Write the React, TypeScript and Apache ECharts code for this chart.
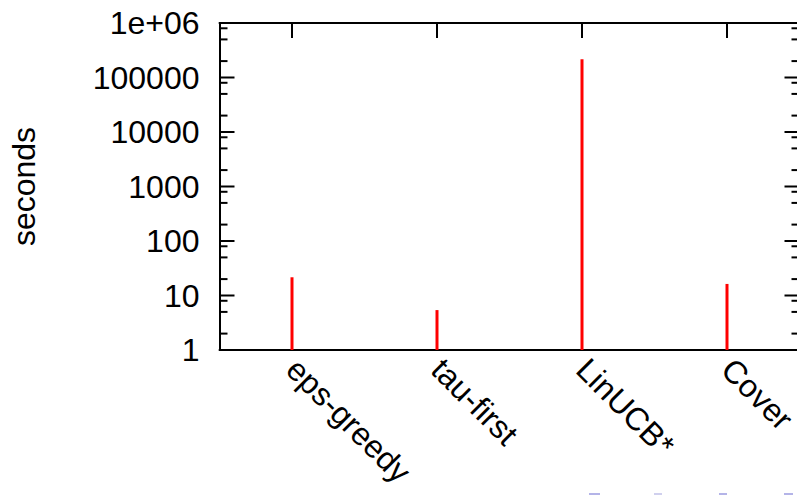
import React, { useEffect, useRef } from "react";
import * as echarts from "echarts";

const categories = ["eps-greedy", "tau-first", "LinUCB*", "Cover"];
const seconds = [21.6, 5.4, 216000, 16.3];
const yTickLabels = ["1", "10", "100", "1000", "10000", "100000", "1e+06"];
const majorTickValues = [1, 10, 100, 1000, 10000, 100000, 1000000];
const minorTickValues = [
  2, 5, 8,
  20, 50, 80,
  200, 500, 800,
  2000, 5000, 8000,
  20000, 50000, 80000,
  200000, 500000, 800000,
];

const FONT = "'Liberation Sans', Arial, Helvetica, sans-serif";

export default function App() {
  const ref = useRef<HTMLDivElement>(null);
  useEffect(() => {
    document.body.style.margin = "0";
    if (!ref.current) return;
    const chart = echarts.init(ref.current, null, { renderer: "svg" });
    const axisLine = { show: true, lineStyle: { color: "#000", width: 2 } };
    const tickSeries = (values: number[], len: number) => ({
      type: "custom",
      xAxisIndex: 0,
      yAxisIndex: 0,
      data: values.map((v) => [0, v]),
      silent: true,
      clip: false,
      z: 5,
      renderItem: (params: any, api: any) => {
        const v = api.value(1);
        const p = api.coord([0, v]);
        const band = api.size([1, 0])[0];
        const xl = p[0] - band / 2;
        const xr = xl + band * categories.length;
        const y = p[1];
        const style = { stroke: "#000", lineWidth: 2 };
        return {
          type: "group",
          children: [
            { type: "line", shape: { x1: xl, y1: y, x2: xl + len, y2: y }, style },
            { type: "line", shape: { x1: xr, y1: y, x2: xr - len, y2: y }, style },
          ],
        };
      },
    });
    chart.setOption({
      animation: false,
      backgroundColor: "#fff",
      grid: {
        left: 219.5,
        top: 23,
        width: 580,
        height: 327,
        containLabel: false,
        outerBoundsMode: "none",
      },
      xAxis: [
        {
          type: "category",
          data: categories,
          position: "bottom",
          boundaryGap: true,
          axisLine,
          axisTick: { show: false },
          splitLine: { show: false },
          axisLabel: {
            rotate: -45,
            margin: 14,
            fontSize: 32,
            fontFamily: FONT,
            color: "#000",
            interval: 0,
          },
        },
        {
          type: "category",
          data: categories,
          position: "top",
          boundaryGap: true,
          axisLine,
          axisTick: { show: true, inside: true, alignWithLabel: true, length: 15, lineStyle: { color: "#000", width: 2 } },
          axisLabel: { show: false },
          splitLine: { show: false },
        },
      ],
      yAxis: [
        {
          type: "log",
          logBase: 10,
          min: 1,
          max: 1000000,
          position: "left",
          name: "seconds",
          nameLocation: "middle",
          nameGap: 180,
          nameRotate: 90,
          nameTextStyle: { fontSize: 32, fontFamily: FONT, color: "#000" },
          axisLine,
          axisTick: { show: false },
          splitLine: { show: false },
          axisLabel: {
            margin: 20,
            fontSize: 32,
            fontFamily: FONT,
            color: "#000",
            formatter: (v: number) => yTickLabels[Math.round(Math.log10(v))] ?? "",
          },
        },
        {
          type: "log",
          logBase: 10,
          min: 1,
          max: 1000000,
          position: "right",
          axisLine,
          axisTick: { show: false },
          splitLine: { show: false },
          axisLabel: { show: false },
        },
      ],
      series: [
        tickSeries(majorTickValues, 15),
        tickSeries(minorTickValues, 8),
        {
          type: "custom",
          name: "seconds",
          xAxisIndex: 0,
          yAxisIndex: 0,
          data: seconds.map((v, i) => [i, v]),
          z: 3,
          renderItem: (params: any, api: any) => {
            const i = api.value(0);
            const v = api.value(1);
            const top = api.coord([i, v]);
            const base = api.coord([i, 1]);
            return {
              type: "line",
              shape: { x1: top[0], y1: base[1], x2: top[0], y2: top[1] },
              style: { stroke: "#ff0000", lineWidth: 3 },
            };
          },
        },
      ],
      graphic: [
        { type: "rect", shape: { x: 589, y: 493, width: 11, height: 2 }, style: { fill: "#b4b4e8" } },
        { type: "rect", shape: { x: 654, y: 493, width: 8, height: 2 }, style: { fill: "#d0d0ee" } },
        { type: "rect", shape: { x: 719, y: 493, width: 8, height: 2 }, style: { fill: "#b4b4e8" } },
        { type: "rect", shape: { x: 784, y: 493, width: 9, height: 2 }, style: { fill: "#b4b4e8" } },
      ],
    });
    return () => chart.dispose();
  }, []);
  return <div ref={ref} style={{ width: 797, height: 495 }} />;
}
